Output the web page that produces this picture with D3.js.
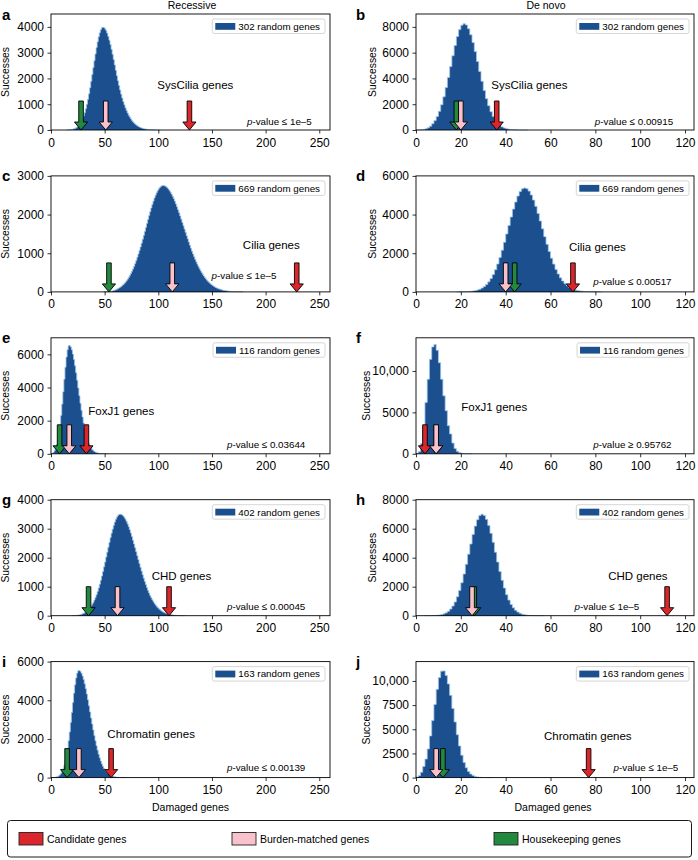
<!DOCTYPE html>
<html><head><meta charset="utf-8">
<script src="https://cdn.jsdelivr.net/npm/d3@7"></script>
<style>
body{margin:0;background:#fff;}
svg{display:block;font-family:"Liberation Sans",Arial,Helvetica,sans-serif;}
</style></head><body>
<svg id="chart" width="698" height="860"></svg>
<script>
// ---------------- DATA ----------------
const panelLetters = ["a","b","c","d","e","f","g","h","i","j"];
const columnTitles = ["Recessive","De novo"];
const geneSets = ["SysCilia genes","SysCilia genes","Cilia genes","Cilia genes","FoxJ1 genes","FoxJ1 genes","CHD genes","CHD genes","Chromatin genes","Chromatin genes"];
const randomGeneCounts = [302,302,669,669,116,116,402,402,163,163];
const pValueTexts = ["≤ 1e–5","≤ 0.00915","≤ 1e–5","≤ 0.00517","≤ 0.03644","≥ 0.95762","≤ 0.00045","≤ 1e–5","≤ 0.00139","≤ 1e–5"];

// histogram counts per damaged-gene bin (bin k = [k, k+1))
const aStart = 14;
const aCounts = [2,4,6,10,15,22,31,44,62,84,114,152,201,263,338,430,540,669,821,995,1189,1405,1640,1890,2152,2420,2689,2950,3196,3420,3615,3774,3893,3965,3990,3975,3930,3857,3756,3630,3482,3316,3132,2937,2734,2525,2315,2106,1910,1725,1550,1390,1240,1100,975,860,755,660,575,500,432,372,320,274,233,197,166,139,116,96,79,65,53,43,35,28,22,17,13,10,8,6,4,3,2,2,1,1];
const bStart = 0;
const bCounts = [3,8,20,45,90,170,300,494,728,1042,1450,1961,2577,3289,4080,4919,5760,6555,7249,7789,8132,8250,8150,7856,7391,6786,6083,5316,4536,3778,3069,2434,1884,1422,1048,753,529,362,242,158,100,62,38,23,14,8,5,3,2,1];
const cStart = 49;
const cCounts = [1,2,3,5,7,10,14,19,26,34,44,56,70,85,103,121,141,164,190,219,251,288,328,372,421,474,532,595,662,734,811,893,979,1069,1162,1259,1359,1460,1564,1668,1772,1875,1977,2076,2171,2262,2347,2427,2499,2563,2619,2665,2702,2729,2745,2750,2746,2736,2718,2693,2661,2623,2578,2528,2472,2411,2345,2276,2202,2125,2046,1964,1881,1796,1711,1625,1540,1455,1372,1290,1209,1131,1054,981,910,842,777,716,657,601,549,500,455,412,372,335,302,270,242,216,192,170,151,133,117,103,90,79,68,59,51,44,38,32,27,23,19,16,13,11,9,7,6,5,4,3,2,2,1,1];
const dStart = 18;
const dCounts = [1,2,4,7,11,18,28,43,65,96,139,199,279,384,519,689,898,1150,1445,1782,2158,2567,2999,3439,3873,4282,4649,4956,5187,5331,5380,5338,5214,5015,4748,4426,4061,3669,3263,2857,2463,2091,1747,1437,1164,928,728,563,428,321,236,172,123,86,60,41,28,19,13,9,6,4,3,2,1];
const eStart = 0;
const eCounts = [10,40,100,200,365,568,853,1235,1723,2315,2999,3745,4505,5223,5835,6283,6520,6539,6449,6273,6017,5693,5313,4890,4438,3973,3508,3054,2623,2222,1856,1529,1242,995,787,614,472,358,267,197,143,103,73,51,35,24,16,11,7,5,3,2,1];
const fStart = 0;
const fCounts = [30,250,1200,3300,6200,9000,11400,12900,13200,12500,11000,9000,7000,5200,3400,2400,1300,650,300,140,60,25,10,4,2];
const gStart = 19;
const gCounts = [1,2,4,6,9,14,20,28,38,50,65,82,101,125,154,188,227,273,327,389,459,538,627,725,834,953,1082,1220,1367,1522,1684,1850,2020,2191,2361,2528,2690,2842,2984,3113,3227,3323,3399,3455,3489,3500,3493,3471,3436,3387,3325,3250,3165,3069,2963,2850,2730,2604,2473,2340,2204,2068,1933,1799,1667,1539,1414,1295,1181,1072,969,873,783,699,622,551,486,427,373,326,282,244,210,180,154,131,111,93,78,65,54,45,37,30,25,20,16,13,10,8,6,5,4,3,2,1];
const hStart = 4;
const hCounts = [1,2,4,8,15,27,46,78,127,200,307,460,669,947,1304,1746,2273,2878,3544,4246,4947,5605,6178,6621,6903,7000,6910,6645,6227,5685,5057,4383,3702,3046,2442,1907,1451,1076,777,547,375,251,163,104,64,39,23,14,8,5,3,2,1];
const iStart = 0;
const iCounts = [1,3,6,12,22,38,62,97,148,221,324,461,642,874,1161,1506,1908,2360,2852,3366,3880,4368,4801,5154,5404,5533,5544,5495,5398,5256,5072,4851,4599,4321,4024,3714,3398,3081,2769,2466,2177,1905,1652,1420,1210,1022,855,709,583,475,384,307,244,191,149,115,88,67,51,38,28,21,15,11,8,6,4,3,2,1];
const jStart = 0;
const jCounts = [50,200,550,1161,1914,2964,4313,5895,7570,9131,10346,11014,11040,10572,9693,8510,7154,5759,4439,3277,2317,1567,1016,630,374,213,117,62,32,16,8,4,2,1];

// arrow positions (damaged genes)
const candidateArrows    = [129, 36, 229, 70, 33, 4, 110, 112, 56, 77];
const burdenArrows       = [ 51, 20, 113, 40, 17, 9,  62,  25, 26,  9];
const housekeepingArrows = [ 28, 18,  54, 44,  8, 9,  35,  26, 15, 12];

// axes
const yMaxes = [4500, 9000, 3000, 6000, 7000, 14000, 4000, 8000, 6000, 12000];
const yTicks = [
  [0,1000,2000,3000,4000],[0,2000,4000,6000,8000],
  [0,1000,2000,3000],[0,2000,4000,6000],
  [0,2000,4000,6000],[0,5000,10000],
  [0,1000,2000,3000,4000],[0,2000,4000,6000,8000],
  [0,2000,4000,6000],[0,2500,5000,7500,10000]
];
const xMaxLeft = 260, xMaxRight = 124;
const xTicksLeft = [0,50,100,150,200,250];
const xTicksRight = [0,20,40,60,80,100,120];

// label anchors in data units
const geneLabelX = [99, 33.6, 178.8, 68.2, 34.8, 20.2, 93.9, 85.7, 52.5, 57.1];
const geneLabelY = [1590, 3180, 1116, 2105, 2324, 5180, 1233, 2490, 2040, 3860];
const pLabelX = [243, 114.7, 210, 114, 237, 114, 237, 99.6, 237, 117];
const pLabelY = [194, 388, 328, 347, 357, 714, 205, 415, 327, 660];

const legendNames = ["Candidate genes","Burden-matched genes","Housekeeping genes"];

// ---------------- STYLE / LAYOUT ----------------
const BLUE = "#1c4f8d", BLUE_EDGE = "#9ec5e8";
const RED = "#d9272b", PINK = "#f8c1cc", GREEN = "#22893f";
const colLeft = [51, 416], colRight = [330, 694];
const plotH = 116, rowStep = 161.9, firstTop = 14;
const yLabelX = [5.5, 372, 5.5, 372, 5.5, 366, 5.5, 372, 5.5, 366];

const starts = [aStart,bStart,cStart,dStart,eStart,fStart,gStart,hStart,iStart,jStart];
const counts = [aCounts,bCounts,cCounts,dCounts,eCounts,fCounts,gCounts,hCounts,iCounts,jCounts];

const svg = d3.select("#chart");
svg.append("rect").attr("width",698).attr("height",860).attr("fill","#fff");

const fmt = d => d >= 10000 ? d3.format(",")(d) : String(d);

panelLetters.forEach((letter, i) => {
  const col = i % 2, row = Math.floor(i / 2);
  const top = firstTop + row * rowStep, bottom = top + plotH;
  const x = d3.scaleLinear().domain([0, col === 0 ? xMaxLeft : xMaxRight]).range([colLeft[col], colRight[col]]);
  const y = d3.scaleLinear().domain([0, yMaxes[i]]).range([bottom, top]);
  const g = svg.append("g");

  // histogram
  const bins = counts[i].map((c, j) => ({x0: starts[i] + j, c}));
  bins.push({x0: starts[i] + counts[i].length, c: 0});
  const area = d3.area().x(d => x(d.x0)).y0(y(0)).y1(d => y(d.c)).curve(d3.curveStepAfter);
  g.append("path").attr("d", area(bins)).attr("fill", BLUE);
  const line = d3.line().x(d => x(d.x0)).y(d => y(d.c)).curve(d3.curveStepAfter);
  g.append("path").attr("d", line([{x0: starts[i], c: 0}].concat(bins)))
    .attr("fill", "none").attr("stroke", BLUE_EDGE).attr("stroke-width", 0.8);

  // arrows
  const arrow = (v, color) => {
    const tx = x(v), ty = y(0), t0 = y(yMaxes[i] * 0.25);
    const sw = 2.3, hw = 6.6, hl = 8;
    const pts = [[tx - sw, t0], [tx + sw, t0], [tx + sw, ty - hl], [tx + hw, ty - hl], [tx, ty], [tx - hw, ty - hl], [tx - sw, ty - hl]];
    g.append("path").attr("d", d3.line()(pts) + "Z").attr("fill", color)
      .attr("stroke", "#000").attr("stroke-width", 0.9).attr("stroke-linejoin", "miter");
  };
  arrow(candidateArrows[i], RED);
  arrow(housekeepingArrows[i], GREEN);
  arrow(burdenArrows[i], PINK);

  // gene set label
  g.append("text").attr("x", x(geneLabelX[i])).attr("y", y(geneLabelY[i]))
    .attr("font-size", 11.5).attr("fill", "#000").text(geneSets[i]);

  // p-value label
  const pt = g.append("text").attr("x", x(pLabelX[i])).attr("y", y(pLabelY[i]))
    .attr("text-anchor", "end").attr("font-size", 9.8).attr("fill", "#000");
  pt.append("tspan").attr("font-style", "italic").text("p");
  pt.append("tspan").text("-value " + pValueTexts[i]);

  // axes
  const xAxis = d3.axisBottom(x).tickValues(col === 0 ? xTicksLeft : xTicksRight)
    .tickSize(3.5).tickPadding(4.5).tickFormat(d => String(d));
  const xa = g.append("g").attr("transform", `translate(0,${bottom})`).call(xAxis);
  const yAxis = d3.axisLeft(y).tickValues(yTicks[i]).tickSize(3.5).tickPadding(3.5).tickFormat(fmt);
  const ya = g.append("g").attr("transform", `translate(${colLeft[col]},0)`).call(yAxis);
  [xa, ya].forEach(a => {
    a.select(".domain").remove();
    a.selectAll("text").attr("font-size", 12).attr("font-family", '"Liberation Sans",Arial,sans-serif').attr("fill", "#000");
    a.selectAll("line").attr("stroke", "#000").attr("stroke-width", 0.8);
  });

  // spines
  g.append("rect").attr("x", colLeft[col]).attr("y", top)
    .attr("width", colRight[col] - colLeft[col]).attr("height", plotH)
    .attr("fill", "none").attr("stroke", "#000").attr("stroke-width", 0.9);

  // in-panel legend
  const lg = g.append("g");
  const lt = lg.append("text").attr("font-size", 9.8).attr("fill", "#000").text(randomGeneCounts[i] + " random genes");
  const tw = lt.node().getComputedTextLength();
  const bw = 26 + tw + 5, bh = 14.5;
  const bx = colRight[col] - 5 - bw, by = top + 5;
  lg.insert("rect", "text").attr("x", bx).attr("y", by).attr("width", bw).attr("height", bh)
    .attr("rx", 2).attr("fill", "#fff").attr("fill-opacity", 0.85).attr("stroke", "#cccccc").attr("stroke-width", 0.8);
  lg.insert("rect", "text").attr("x", bx + 3).attr("y", by + 4).attr("width", 20).attr("height", 6.8).attr("fill", BLUE);
  lt.attr("x", bx + 26).attr("y", by + 10.8);

  // y label
  const cy = (top + bottom) / 2;
  svg.append("text").attr("transform", `translate(${yLabelX[i] + 3.7},${cy}) rotate(-90)`)
    .attr("text-anchor", "middle").attr("font-size", 10.3).attr("fill", "#000").text("Successes");

  // panel letter
  svg.append("text").attr("x", col === 0 ? 2 : 356).attr("y", top + 5.5)
    .attr("font-size", 15).attr("font-weight", "bold").attr("fill", "#000").text(letter);
});

// column titles
svg.append("text").attr("x", 192).attr("y", 8.8).attr("text-anchor", "middle").attr("font-size", 10.5).text(columnTitles[0]);
svg.append("text").attr("x", 546).attr("y", 8.8).attr("text-anchor", "middle").attr("font-size", 10.5).text(columnTitles[1]);

// x labels
svg.append("text").attr("x", 190.5).attr("y", 811).attr("text-anchor", "middle").attr("font-size", 10.5).text("Damaged genes");
svg.append("text").attr("x", 553).attr("y", 811).attr("text-anchor", "middle").attr("font-size", 10.5).text("Damaged genes");

// bottom legend
svg.append("rect").attr("x", 7.5).attr("y", 820.5).attr("width", 684).attr("height", 36.5).attr("rx", 3)
  .attr("fill", "#fff").attr("stroke", "#000").attr("stroke-width", 0.9);
const legColors = [RED, PINK, GREEN];
const legX = [19, 232, 494];
legendNames.forEach((n, k) => {
  svg.append("rect").attr("x", legX[k]).attr("y", 832.5).attr("width", 24).attr("height", 12.5)
    .attr("fill", legColors[k]).attr("stroke", "#222").attr("stroke-width", 0.9);
  svg.append("text").attr("x", legX[k] + 28).attr("y", 842.5).attr("font-size", 10.5).text(n);
});
</script>
</body></html>
